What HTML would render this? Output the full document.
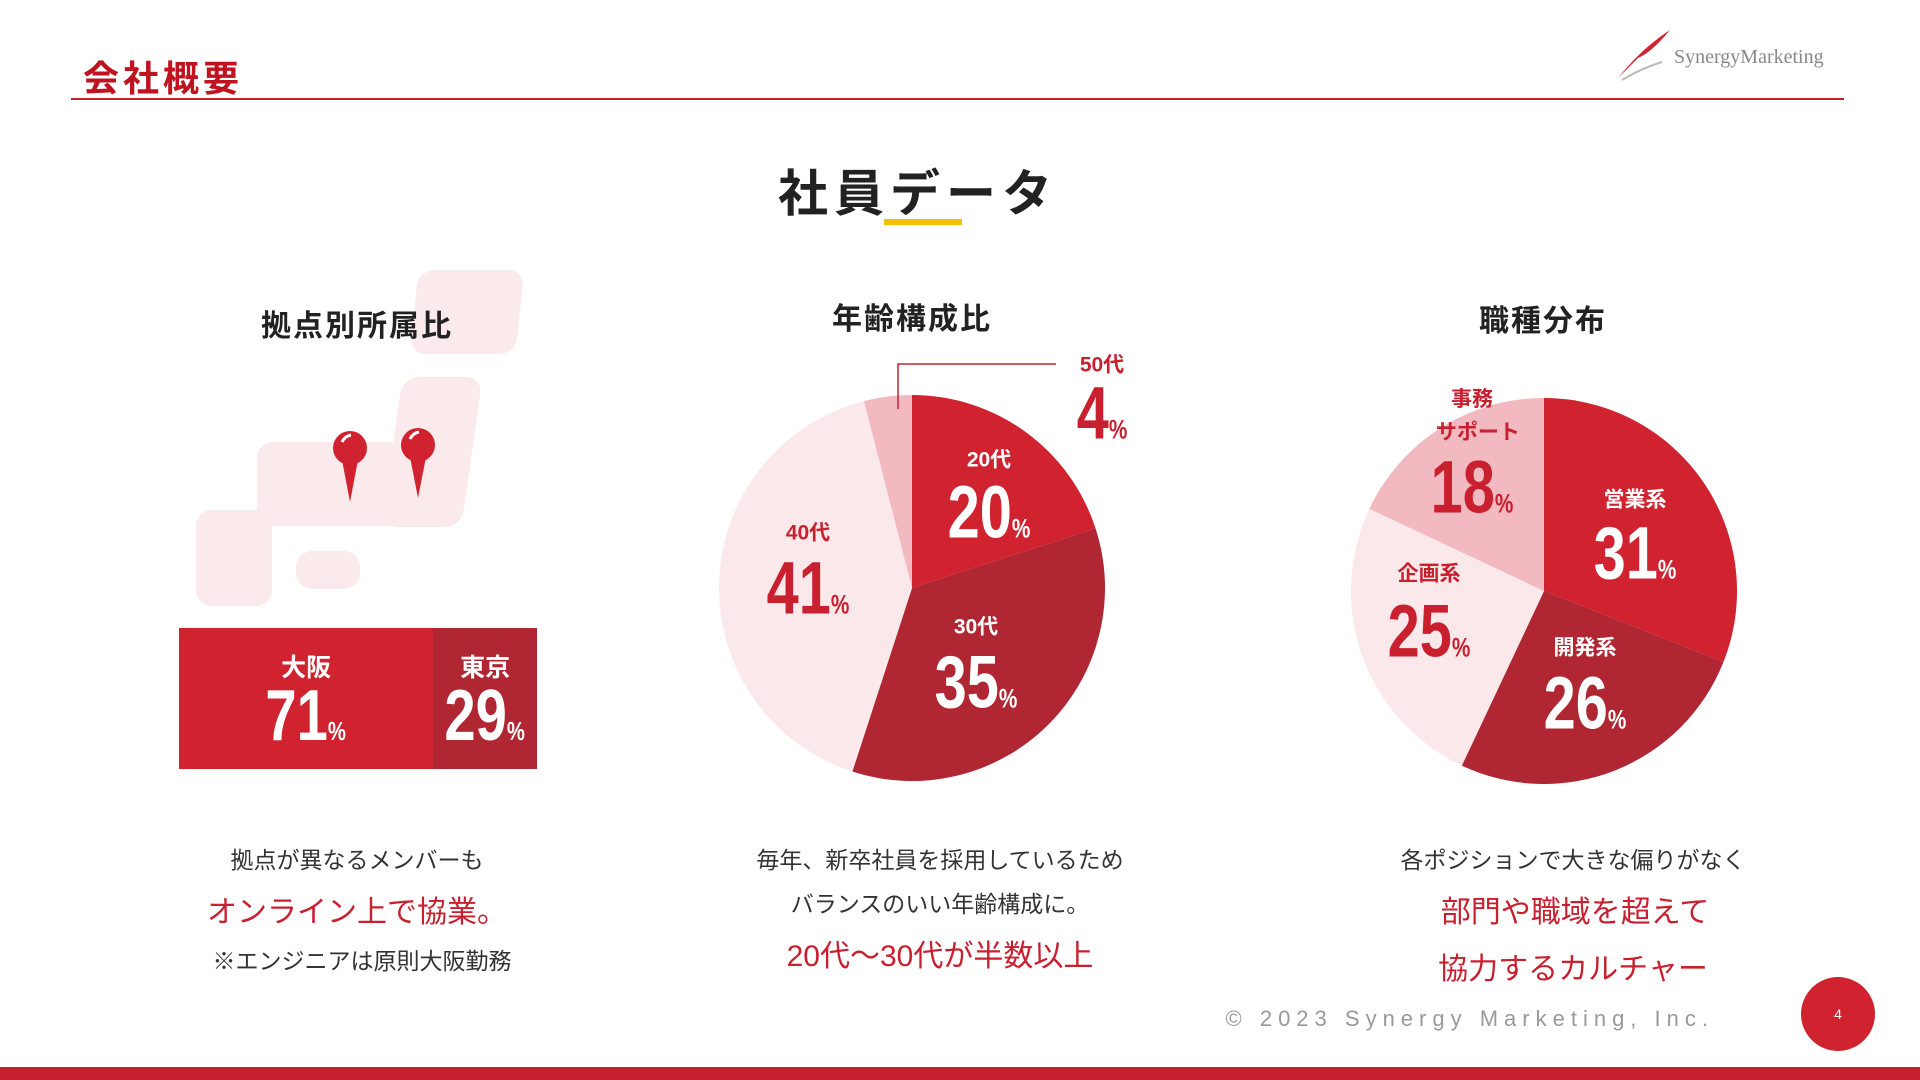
<!DOCTYPE html>
<html lang="ja"><head><meta charset="utf-8">
<style>
html,body{margin:0;padding:0;background:#fff}
body{width:1920px;height:1080px;position:relative;overflow:hidden;font-family:"Liberation Sans","Noto Sans CJK JP",sans-serif}
.a{position:absolute;white-space:nowrap}
.c{transform:translate(-50%,-50%)}
.num{font-weight:bold;display:inline-block;transform:scaleX(0.78);transform-origin:center}
.blob{position:absolute;background:#fbeaec;border-radius:16px}
</style></head><body>
<div class="a" style="left:83px;top:50px;font-size:36px;font-weight:bold;color:#c0121f;letter-spacing:4px">会社概要</div>
<div class="a" style="left:71px;top:98px;width:1773px;height:2px;background:#c8202f"></div>
<div class="a" style="left:1612px;top:28px;width:230px;height:55px">
<svg width="60" height="55" style="position:absolute;left:0;top:0"><path d="M6 50 Q30 20 58 2 Q40 24 26 30 Q16 40 6 50Z" fill="#d0222f"/><path d="M10 52 Q30 40 50 34" stroke="#bbb" stroke-width="2" fill="none"/></svg>
<span style="position:absolute;left:62px;top:18px;font-size:20px;color:#888;font-family:'Liberation Serif',serif">SynergyMarketing</span></div>
<div class="a c" style="left:918px;top:190px;font-size:50px;font-weight:bold;color:#222;letter-spacing:6px">社員データ</div>
<div class="a" style="left:884px;top:219px;width:78px;height:6px;background:#f2c200"></div>

<div class="blob" style="left:414px;top:270px;width:106px;height:84px;transform:skewX(-6deg)"></div>
<div class="blob" style="left:392px;top:377px;width:80px;height:150px;transform:skewX(-8deg)"></div>
<div class="blob" style="left:257px;top:442px;width:150px;height:84px"></div>
<div class="blob" style="left:196px;top:510px;width:76px;height:96px"></div>
<div class="blob" style="left:296px;top:551px;width:64px;height:38px"></div>
<svg class="a" style="left:320px;top:420px" width="150" height="90">
<circle cx="30" cy="28" r="17" fill="#d0222f"/><path d="M22 40 L30 82 L38 40Z" fill="#d0222f"/><path d="M22 22 Q25 16 31 15" stroke="#fff" stroke-width="3" fill="none"/>
<circle cx="98" cy="25" r="17" fill="#d0222f"/><path d="M90 37 L98 78 L106 37Z" fill="#d0222f"/><path d="M90 19 Q93 13 99 12" stroke="#fff" stroke-width="3" fill="none"/>
</svg>
<div class="a c" style="left:357px;top:323px;font-size:30px;font-weight:bold;color:#222;letter-spacing:2px">拠点別所属比</div>

<div id="bar" class="a" style="left:179px;top:628px;width:358px;height:141px"></div>

<div class="a c" style="left:357px;top:858px;font-size:23px;color:#333">拠点が異なるメンバーも</div>
<div class="a c" style="left:357px;top:909px;font-size:30px;color:#c8202f">オンライン上で協業。</div>
<div class="a c" style="left:362px;top:959px;font-size:23px;color:#333">※エンジニアは原則大阪勤務</div>

<div class="a c" style="left:912px;top:316px;font-size:30px;font-weight:bold;color:#222;letter-spacing:2px">年齢構成比</div>
<div class="a c" style="left:1543px;top:318px;font-size:30px;font-weight:bold;color:#222;letter-spacing:2px">職種分布</div>

<svg id="pies" class="a" style="left:0;top:0" width="1920" height="1080"></svg>
<div id="labels"></div>

<div class="a c" style="left:940px;top:858px;font-size:23px;color:#333">毎年、新卒社員を採用しているため</div>
<div class="a c" style="left:940px;top:902px;font-size:23px;color:#333">バランスのいい年齢構成に。</div>
<div class="a c" style="left:940px;top:953px;font-size:30px;color:#c8202f">20代〜30代が半数以上</div>

<div class="a c" style="left:1573px;top:858px;font-size:23px;color:#333">各ポジションで大きな偏りがなく</div>
<div class="a c" style="left:1575px;top:909px;font-size:30px;color:#c8202f">部門や職域を超えて</div>
<div class="a c" style="left:1573px;top:966px;font-size:30px;color:#c8202f">協力するカルチャー</div>

<div class="a" style="right:206px;top:1006px;font-size:22px;color:#999;letter-spacing:6px">© 2023 Synergy Marketing, Inc.</div>
<div class="a" style="left:1801px;top:977px;width:74px;height:74px;border-radius:50%;background:#d0222f;color:#fff;font-size:14px;text-align:center;line-height:74px">4</div>
<div class="a" style="left:0;top:1067px;width:1920px;height:13px;background:#c8202f"></div>

<script>
const locNames=["大阪","東京"];
const locValues=[71,29];
const locColors=["#d0222f","#b02632"];
const ageNames=["20代","30代","40代","50代"];
const ageValues=[20,35,41,4];
const ageColors=["#d0222f","#b02632","#fbe8ea","#f2b9c0"];
const jobNames=["営業系","開発系","企画系","事務サポート"];
const jobValues=[31,26,25,18];
const jobColors=["#d0222f","#b02632","#fbe8ea","#f2b9c0"];

const NS="http://www.w3.org/2000/svg";
const bar=document.getElementById('bar');
const tot=locValues.reduce((a,b)=>a+b,0);
let accX=0;
locValues.forEach((v,i)=>{
  const w=358*v/tot;
  const d=document.createElement('div');
  
  
  d.style.cssText=`position:absolute;left:${accX}px;top:0;width:${w}px;height:141px;background:${locColors[i]};color:#fff;text-align:center`;
  d.innerHTML=`<div style="position:absolute;left:0;right:0;top:20px;font-size:25px;font-weight:bold">${locNames[i]}</div><div style="position:absolute;left:0;right:0;top:48px;font-size:72px;line-height:80px"><span class="num">${v}<span style="font-size:26px">%</span></span></div>`;
  bar.appendChild(d);
  accX+=w;
});

const svg=document.getElementById('pies');
function pie(cx,cy,r,vals,cols,name){
  const t=vals.reduce((a,b)=>a+b,0);let a0=0;
  vals.forEach((v,i)=>{
    const a1=a0+v/t*2*Math.PI;
    const x0=cx+r*Math.sin(a0),y0=cy-r*Math.cos(a0),x1=cx+r*Math.sin(a1),y1=cy-r*Math.cos(a1);
    const p=document.createElementNS(NS,'path');
    p.setAttribute('d',`M${cx},${cy}L${x0},${y0}A${r},${r} 0 ${(a1-a0)>Math.PI?1:0} 1 ${x1},${y1}Z`);
    p.setAttribute('fill',cols[i]);
    
    
    svg.appendChild(p);a0=a1;
  });
}
pie(912,588,193,ageValues,ageColors,'age');
pie(1544,591,193,jobValues,jobColors,'job');
const ln=document.createElementNS(NS,'polyline');
ln.setAttribute('points','898,409 898,364 1056,364');
ln.setAttribute('fill','none');ln.setAttribute('stroke','#c8202f');ln.setAttribute('stroke-width','1.5');


svg.appendChild(ln);

const L=document.getElementById('labels');
function lab(x,y,ny,title,v,col,size,name){
  const t=document.createElement('div');
  
  
  t.className='a c';t.style.cssText=`left:${x}px;top:${y}px;font-size:21px;font-weight:bold;color:${col};line-height:33px;text-align:center`;
  t.innerHTML=title;L.appendChild(t);
  const n=document.createElement('div');
  
  
  n.className='a c';n.style.cssText=`left:${x}px;top:${ny}px;font-size:${size}px;color:${col}`;
  n.innerHTML=`<span class="num">${v}<span style="font-size:${size*0.36}px">%</span></span>`;L.appendChild(n);
}
lab(989,460,512,ageNames[0],ageValues[0],'#fff',74,'age-20s');
lab(976,627,682,ageNames[1],ageValues[1],'#fff',74,'age-30s');
lab(808,533,588,ageNames[2],ageValues[2],'#c8202f',74,'age-40s');
lab(1102,365,413,ageNames[3],ageValues[3],'#c8202f',74,'age-50s');
lab(1635,500,553,jobNames[0],jobValues[0],'#fff',74,'job-sales');
lab(1585,648,703,jobNames[1],jobValues[1],'#fff',74,'job-dev');
lab(1429,574,631,jobNames[2],jobValues[2],'#c8202f',74,'job-planning');
lab(1472,416,487,'事務<br>&nbsp;&nbsp;サポート',jobValues[3],'#c8202f',74,'job-support');
</script>
</body></html>
